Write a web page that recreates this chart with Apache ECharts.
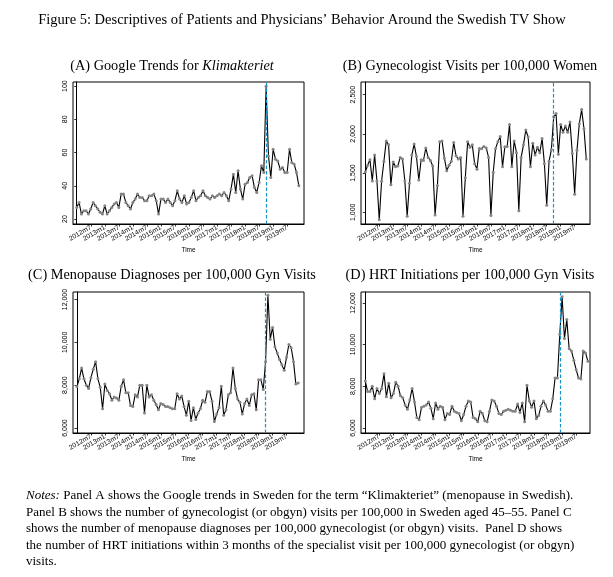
<!DOCTYPE html>
<html><head><meta charset="utf-8">
<script src="https://cdn.jsdelivr.net/npm/echarts@6/dist/echarts.min.js"></script>
<style>html,body{margin:0;padding:0;background:#fff}#c{width:613px;height:577px}</style>
</head><body><div id="c"></div>
<script>
// Monthly time axis 2012m1 .. 2019m12
const months = [];
for (let y = 2012; y <= 2019; y++) for (let m = 1; m <= 12; m++) months.push(y + 'm' + m);
const tickLabels = ['2012m7','2013m1','2013m7','2014m1','2014m7','2015m1','2015m7','2016m1','2016m7','2017m1','2017m7','2018m1','2018m7','2019m1','2019m7'];

const googleTrends = [
  27,30,23,25,25,23,26,30,28,26,24,23,
  28,23,25,27,29,30,27,35,35,30,28,26,
  30,32,35,33,33,31,31,34,34,35,31,23,
  32,32,30,32,30,28,31,37,32,30,34,29,
  30,33,37,31,33,34,37,34,33,32,34,33,
  34,35,34,36,34,31,38,47,36,49,38,32,
  41,42,45,46,39,36,42,52,48,100,58,45,
  62,56,55,50,51,48,48,62,54,53,48,40
];
const gynVisits = [
  1515,1600,1670,1400,1730,1400,905,1395,1650,1910,1860,1350,
  1640,1580,1590,1700,1680,1400,950,1370,1730,1870,1710,1410,
  1670,1660,1820,1700,1660,1590,965,1340,1900,1910,1690,1530,
  1600,1650,1890,1720,1680,1700,950,1440,1900,1830,1860,1620,
  1550,1815,1810,1840,1820,1700,960,1510,1815,1900,1965,1580,
  1835,1840,2120,1580,1910,1760,1020,1700,1860,2050,1960,1580,
  1880,1730,1830,1760,1940,1620,1090,1650,1800,2220,2260,1740,
  2120,2020,2100,2020,2150,1750,1230,1790,2130,2310,2070,1680
];
const menopauseDiag = [
  7940,8300,8800,8300,8000,7850,8350,8750,9100,8300,7900,6900,
  8050,7750,7600,7300,7450,7400,7300,7950,8250,7650,7650,7050,
  7000,7550,7450,8000,8000,6700,8000,7450,7550,7300,7100,6850,
  7150,7100,7000,7000,6950,6900,6900,7600,7350,7500,7000,6600,
  7250,6350,6950,6400,6700,6900,7300,7200,7700,7700,7250,6300,
  6650,6950,7950,6600,6850,7550,7650,8800,7850,7350,7200,6650,
  7150,7350,7050,7550,7600,6850,8250,8250,7800,9100,12200,10150,
  10700,9800,9500,9200,8950,8700,9300,9900,9750,9100,8050,8100
];
const hrtInit = [
  8250,7750,7750,8000,7400,7900,7650,7900,8600,7500,8150,7450,
  7650,8200,8000,7550,7450,7100,6900,7350,7900,7250,6500,6400,
  7000,7050,7100,7250,6950,6450,7200,6900,7050,7000,6400,6700,
  6650,7050,6800,6750,6700,6350,6650,7050,7300,7250,6500,6450,
  6300,6800,6700,6350,6300,6800,7350,7300,7050,6700,6650,6800,
  6850,6900,6850,6800,6800,7150,6750,7200,6300,8050,7300,7000,
  7300,6450,6600,7050,7300,7100,6800,6800,7400,8400,8400,10500,
  12300,10300,11200,9800,9700,9250,8800,8400,8350,9700,9600,9200
];
const showMonth = ['2018m10','2018m10','2018m10','2018m12'];
const yTicksA = [20,40,60,80,100];
const yTicksB = [1000,1500,2000,2500];
const yTicksCD = [6000,8000,10000,12000];

const seriesData = [googleTrends, gynVisits, menopauseDiag, hrtInit];
const yTicks = [yTicksA, yTicksB, yTicksCD, yTicksCD];
const grids = [
  {left:73, top:82, width:231, height:142},
  {left:361, top:82, width:229, height:142},
  {left:73, top:292, width:231, height:141},
  {left:361, top:292, width:229, height:141}
];
const xRange = [[-1.6,97.2],[-1.85,96.6],[-1.7,97.5],[-1.83,95.9]];
const yRange = [[17,102.5],[850,2662],[5767,12353],[5761,12525]];
const tickIdx = tickLabels.map(l => months.indexOf(l));
const fmt = v => String(v).replace(/\B(?=(\d{3})+(?!\d))/g, ',');
const tickFont = 'Liberation Sans';

const option = {
  animation: false,
  backgroundColor: '#fff',
  grid: grids.map(g => Object.assign({show:true, borderColor:'#000', borderWidth:1, containLabel:false}, g)),
  xAxis: grids.map((g,k) => ({
    type:'value', gridIndex:k, min:xRange[k][0], max:xRange[k][1],
    axisLine:{show:true, lineStyle:{color:'#000', width:1}},
    axisTick:{show:true, customValues:tickIdx, length:2.5, lineStyle:{color:'#000', width:0.8}},
    axisLabel:{show:true, customValues:tickIdx, formatter:v => months[Math.round(v)], rotate:30,
      fontSize:6.8, fontFamily:tickFont, color:'#000', margin:3},
    splitLine:{show:false},
    name:'Time', nameLocation:'middle', nameGap:23,
    nameTextStyle:{fontSize:6.5, fontFamily:tickFont, color:'#000'}
  })),
  yAxis: grids.map((g,k) => ({
    type:'value', gridIndex:k, min:yRange[k][0], max:yRange[k][1],
    axisLine:{show:true, lineStyle:{color:'#000', width:1}},
    axisTick:{show:true, customValues:yTicks[k], length:2.5, lineStyle:{color:'#000', width:0.8}},
    axisLabel:{show:true, customValues:yTicks[k], formatter:v => fmt(v), rotate:90,
      fontSize:7, fontFamily:tickFont, color:'#000', margin:4},
    splitLine:{show:false}
  })),
  series: seriesData.map((d,k) => ({
    type:'line', xAxisIndex:k, yAxisIndex:k,
    data: d.map((v,i) => [i, v]),
    symbol:'circle', symbolSize:3, showSymbol:true, showAllSymbol:true,
    lineStyle:{color:'#000', width:1.1},
    itemStyle:{color:'#858585', borderWidth:0},
    z: 3,
    markLine:{silent:true, symbol:['none','none'], label:{show:false}, z:10,
      lineStyle:{type:[3.5,2], color:'#1a93c8', width:1.2, opacity:1},
      emphasis:{disabled:true},
      data:[{xAxis: months.indexOf(showMonth[k])}]}
  })),
  graphic: [
    {type:'text', x:302, y:20, style:{text:"Figure 5: Descriptives of Patients and Physicians’ Behavior Around the Swedish TV Show",
      font:'14.5px "Liberation Serif"', fill:'#000', align:'center', verticalAlign:'middle'}},
    {type:'text', x:172, y:66, style:{text:'(A) Google Trends for {i|Klimakteriet}',
      font:'14.3px "Liberation Serif"', fill:'#000', align:'center', verticalAlign:'middle',
      rich:{i:{fontStyle:'italic', fontSize:14.3, fontFamily:'Liberation Serif'}}}},
    {type:'text', x:470, y:66, style:{text:'(B) Gynecologist Visits per 100,000 Women',
      font:'14.3px "Liberation Serif"', fill:'#000', align:'center', verticalAlign:'middle'}},
    {type:'text', x:172, y:275, style:{text:'(C) Menopause Diagnoses per 100,000 Gyn Visits',
      font:'14.3px "Liberation Serif"', fill:'#000', align:'center', verticalAlign:'middle'}},
    {type:'text', x:470, y:275, style:{text:'(D) HRT Initiations per 100,000 Gyn Visits',
      font:'14.3px "Liberation Serif"', fill:'#000', align:'center', verticalAlign:'middle'}},
    {type:'text', x:26, y:496, style:{text:'{i|Notes:} Panel A shows the Google trends in Sweden for the term “Klimakteriet” (menopause in Swedish).',
      font:'13px "Liberation Serif"', fill:'#000', verticalAlign:'middle',
      rich:{i:{fontStyle:'italic', fontSize:13, fontFamily:'Liberation Serif'}}}},
    {type:'text', x:26, y:512.5, style:{text:'Panel B shows the number of gynecologist (or obgyn) visits per 100,000 in Sweden aged 45–55. Panel C',
      font:'13px "Liberation Serif"', fill:'#000', verticalAlign:'middle'}},
    {type:'text', x:26, y:529, style:{text:'shows the number of menopause diagnoses per 100,000 gynecologist (or obgyn) visits.  Panel D shows',
      font:'13px "Liberation Serif"', fill:'#000', verticalAlign:'middle'}},
    {type:'text', x:26, y:545.5, style:{text:'the number of HRT initiations within 3 months of the specialist visit per 100,000 gynecologist (or obgyn)',
      font:'13px "Liberation Serif"', fill:'#000', verticalAlign:'middle'}},
    {type:'text', x:26, y:562, style:{text:'visits.',
      font:'13px "Liberation Serif"', fill:'#000', verticalAlign:'middle'}}
  ]
};
const chart = echarts.init(document.getElementById('c'), null, {renderer:'canvas'});
chart.setOption(option);
</script></body></html>
